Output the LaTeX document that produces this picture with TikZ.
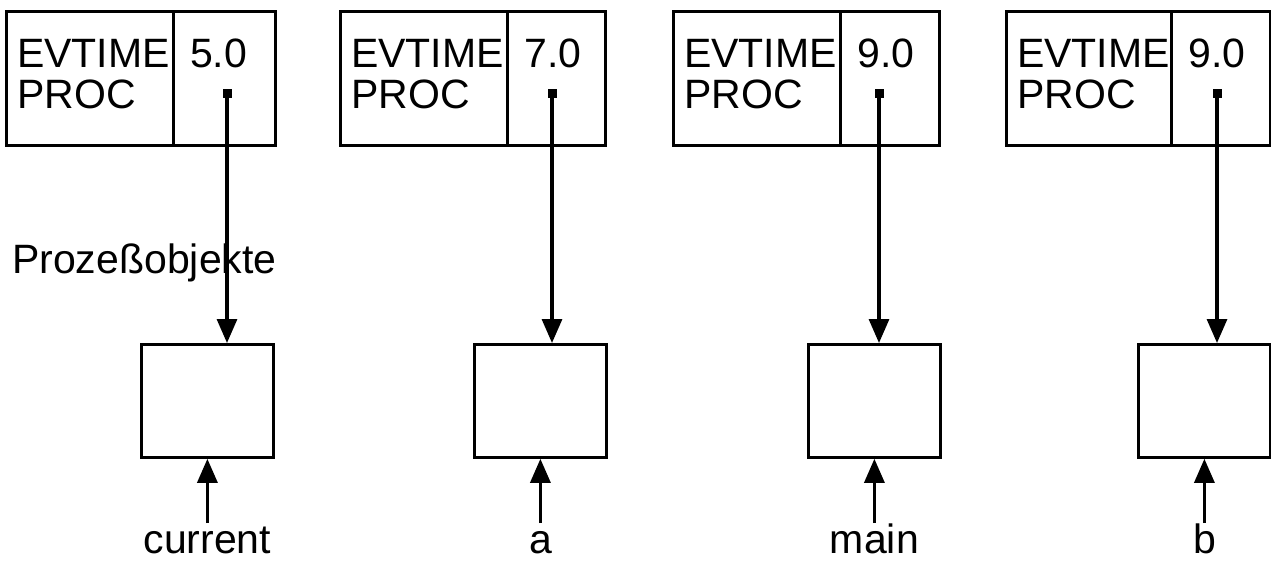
\documentclass[tikz,border=0pt]{standalone}
\usepackage{fontspec}
\setmainfont{Liberation Sans}
\usetikzlibrary{arrows.meta}
\begin{document}
\begin{tikzpicture}[x=1pt,y=-1pt,>={Triangle[width=20pt,length=24pt]},
    line join=miter, font=\fontsize{41}{42}\selectfont,
    cell/.style={draw,line width=2.8pt,minimum height=134pt,inner sep=0pt,anchor=north west},
    obj/.style={draw,line width=2.8pt,minimum width=132pt,minimum height=113pt,inner sep=0pt,anchor=north west},
    txt/.style={inner sep=0pt,anchor=base west},
    dot/.style={fill,rectangle,minimum size=9pt,inner sep=0pt},
    ptr/.style={->,line width=3.2pt}]
    \useasboundingbox (0,0) rectangle (1271,560);
    \node[txt] (title) at (12,273) {Prozeßobjekte};
    \foreach \n/\l/\s/\r/\d/\v/\p/\lab in {1/5/172/274/227/5.0/140/current,
        2/339/506/604/552/7.0/473/a, 3/672/839/938/879/9.0/807/main,
        4/1005/1170/1269/1217/9.0/1137/b}{
        \node[cell,minimum width=\s pt-\l pt] (key\n) at (\l,10) {};
        \node[cell,minimum width=\r pt-\s pt] (val\n) at (\s,10) {};
        \node[txt] (evt\n) at (\l+12,67) {EVTIME};
        \node[txt] (proc\n) at (\l+12,108) {PROC};
        \node[txt] (num\n) at (\s+18,67) {\v};
        \node[dot] (ptr\n) at (\d,93) {};
        \node[obj] (obj\n) at (\p,343) {};
        \node[txt,anchor=base] (lab\n) at (obj\n.south |- 0,553) {\lab};
        \coordinate (tail\n) at (obj\n.south |- 0,523);
        \draw[ptr] (ptr\n.center) -- (ptr\n |- obj\n.north);
        \draw[ptr] (tail\n) -- (obj\n.south);
    }
\end{tikzpicture}
\end{document}
